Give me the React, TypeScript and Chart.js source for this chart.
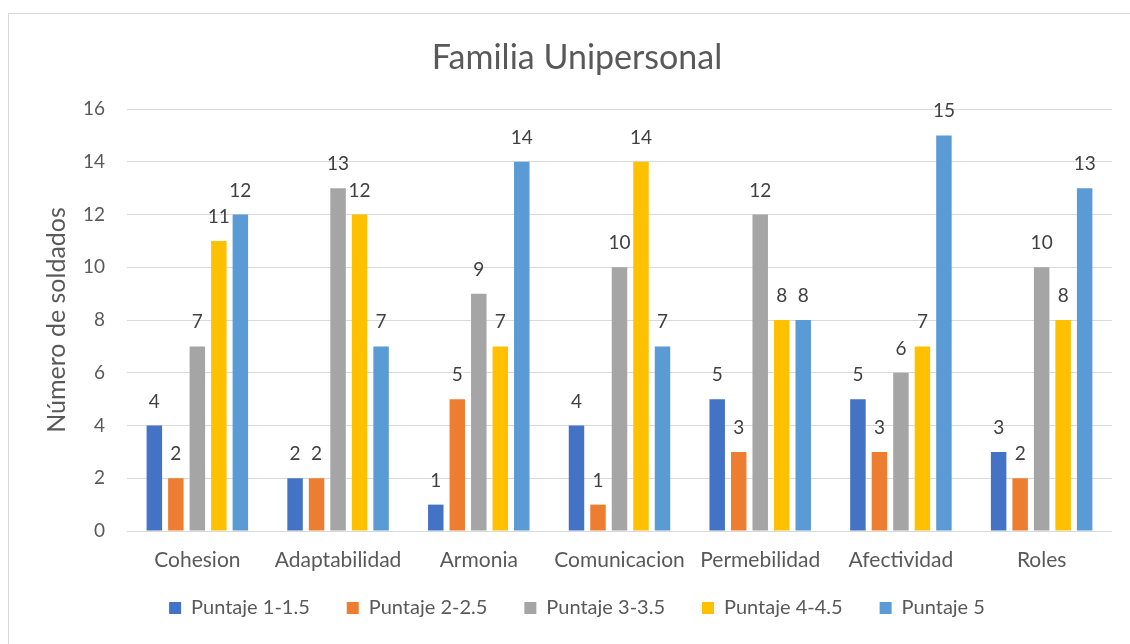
import React, { useEffect, useRef } from "react";
import { Chart, registerables } from "chart.js";

Chart.register(...registerables);

const categories = ["Cohesion", "Adaptabilidad", "Armonia", "Comunicacion", "Permebilidad", "Afectividad", "Roles"];
const seriesNames = ["Puntaje 1-1.5", "Puntaje 2-2.5", "Puntaje 3-3.5", "Puntaje 4-4.5", "Puntaje 5"];
const puntaje1 = [4, 2, 1, 4, 5, 5, 3];
const puntaje2 = [2, 2, 5, 1, 3, 3, 2];
const puntaje3 = [7, 13, 9, 10, 12, 6, 10];
const puntaje4 = [11, 12, 7, 14, 8, 7, 8];
const puntaje5 = [12, 7, 14, 7, 8, 15, 13];
const seriesColors = ["#4472C4", "#ED7D31", "#A5A5A5", "#FFC000", "#5B9BD5"];
const yTicks = [0, 2, 4, 6, 8, 10, 12, 14, 16];

const FONT = "Lato";
const TEXT = "#595959";

const dataLabels = {
  id: "dataLabels",
  afterDatasetsDraw(chart: any) {
    const ctx = chart.ctx;
    ctx.save();
    ctx.font = `19px ${FONT}`;
    ctx.fillStyle = "#404040";
    ctx.textAlign = "center";
    ctx.textBaseline = "alphabetic";
    chart.data.datasets.forEach((ds: any, i: number) => {
      const meta = chart.getDatasetMeta(i);
      meta.data.forEach((bar: any, j: number) => {
        ctx.fillText(String(ds.data[j]), bar.x, bar.y - 18);
      });
    });
    ctx.restore();
  },
};

export default function App() {
  const ref = useRef<HTMLCanvasElement>(null);
  useEffect(() => {
    if (!ref.current) return;
    const values = [puntaje1, puntaje2, puntaje3, puntaje4, puntaje5];
    const chart = new Chart(ref.current, {
      type: "bar",
      data: {
        labels: categories,
        datasets: seriesNames.map((name, i) => ({
          label: name,
          data: values[i],
          backgroundColor: seriesColors[i],
          borderWidth: 0,
          categoryPercentage: 0.764,
          barPercentage: 0.72,
        })),
      },
      options: {
        animation: false,
        responsive: true,
        maintainAspectRatio: false,
        layout: { padding: { left: 33, right: 27, top: 0, bottom: 16 } },
        plugins: {
          title: {
            display: true,
            text: "Familia Unipersonal",
            color: TEXT,
            font: { family: FONT, size: 34, weight: "normal" },
            padding: { top: 23.6, bottom: 30.6 },
          },
          legend: {
            position: "bottom",
            labels: {
              color: TEXT,
              font: { family: FONT, size: 20 },
              boxWidth: 12,
              boxHeight: 12,
              padding: 37,
            },
          },
          tooltip: { enabled: false },
        },
        scales: {
          x: {
            grid: { display: false, drawTicks: false },
            border: { display: false },
            ticks: { color: TEXT, font: { family: FONT, size: 21 }, padding: 17 },
            afterFit: (scale: any) => {
              scale._computeLabelArea = () => undefined;
              scale.height = 30;
            },
          },
          y: {
            min: 0,
            max: 16,
            afterBuildTicks: (scale: any) => {
              scale.ticks = yTicks.map((v) => ({ value: v }));
            },
            afterFit: (scale: any) => {
              scale.width = 85;
            },
            grid: { color: "#D9D9D9", lineWidth: 1, drawTicks: false },
            border: { display: false },
            ticks: { color: TEXT, font: { family: FONT, size: 19 }, padding: 22 },
            title: {
              display: true,
              text: "Número de soldados",
              color: TEXT,
              font: { family: FONT, size: 25 },
              padding: { top: 0, bottom: 0 },
            },
          },
        },
      },
      plugins: [dataLabels],
    });
    return () => chart.destroy();
  }, []);

  return (
    <div style={{ position: "fixed", left: 0, top: 0, width: 1130, height: 644, overflow: "hidden", background: "#fff" }}>
      <div
        style={{
          position: "absolute",
          left: 8,
          top: 13,
          width: 1140,
          height: 650,
          border: "1px solid #D9D9D9",
          boxSizing: "border-box",
        }}
      >
        <div style={{ position: "absolute", left: 0, top: 0, width: 1130, height: 630 }}>
          <canvas ref={ref} />
        </div>
      </div>
    </div>
  );
}
